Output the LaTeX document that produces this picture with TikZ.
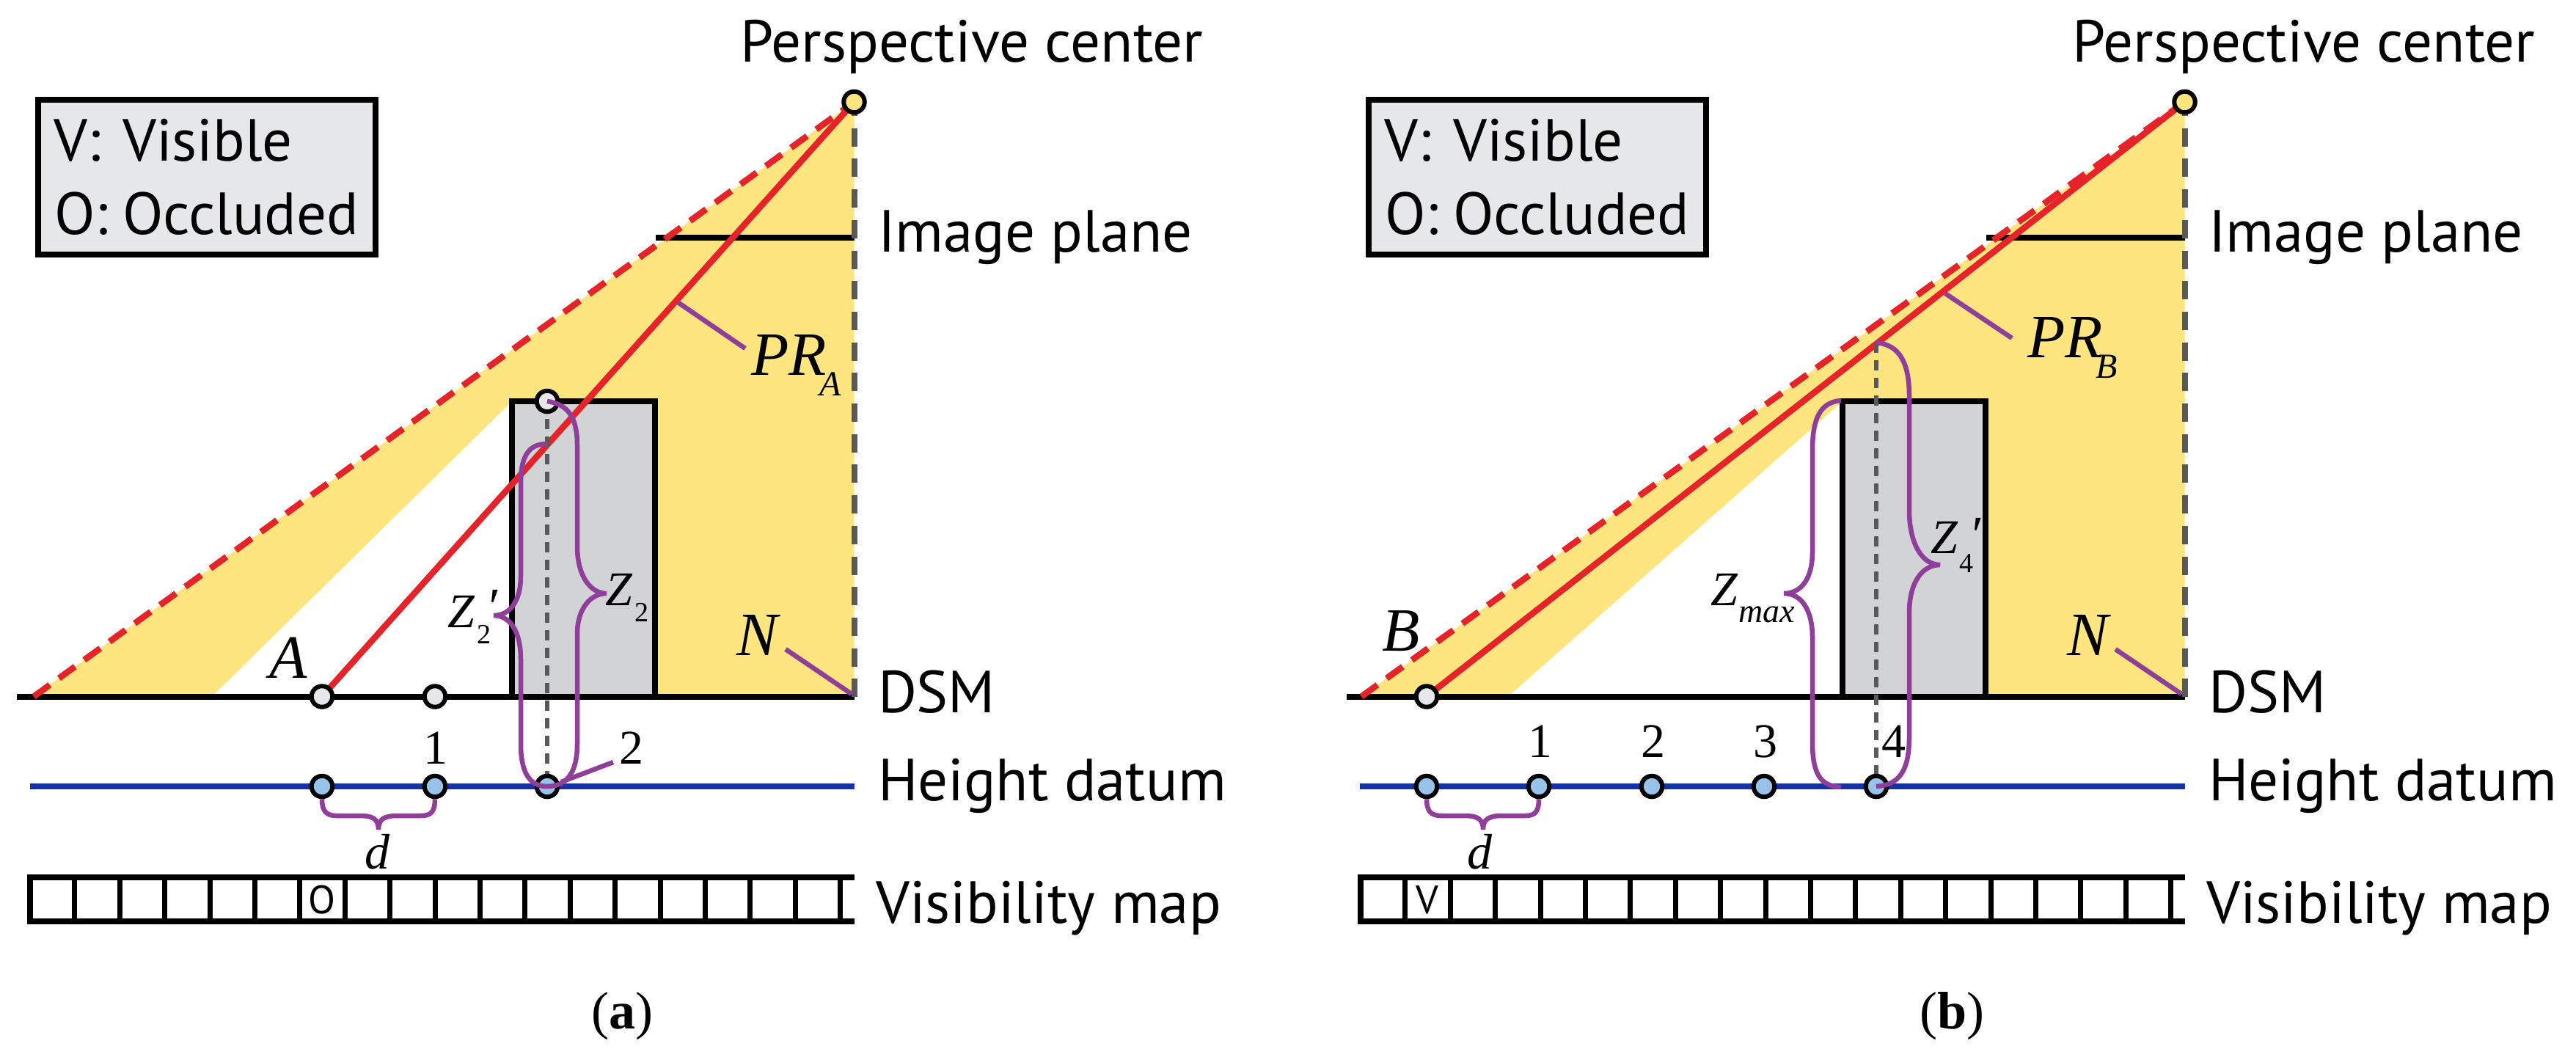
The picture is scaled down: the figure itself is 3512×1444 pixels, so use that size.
\documentclass[tikz,border=0pt]{standalone}
\usepackage{fontspec}
\setmainfont{PT Sans}
\newfontfamily\serifit{Liberation Serif}[ItalicFont={Liberation Serif Italic}]
\definecolor{yel}{HTML}{FEE57F}
\definecolor{bld}{HTML}{D1D3D4}
\definecolor{lgd}{HTML}{E6E7E8}
\definecolor{redl}{HTML}{E52329}
\definecolor{pur}{HTML}{8F3F9A}
\definecolor{blu}{HTML}{1532A8}
\definecolor{lblu}{HTML}{97C2EA}
\definecolor{gry}{HTML}{58595B}
\newcommand{\sz}[1]{\fontsize{#1}{#1}\selectfont}
\newcommand{\mi}[2]{{\serifit\itshape\sz{#1}#2}}
\newcommand{\dg}[2]{{\serifit\sz{#1}#2}}
\tikzset{
  x=1pt,y=-1pt,
  lbl/.style={inner sep=0pt,outer sep=0pt,anchor=base west},
  mid/.style={inner sep=0pt,outer sep=0pt,anchor=base},
  sans/.style={font=\sz{81}},
  dotnode/.style={circle,draw=black,line width=6pt,minimum size=28.5pt,inner sep=0pt},
  pdot/.style={dotnode,fill=lgd},
  bdot/.style={dotnode,fill=lblu},
  ydot/.style={dotnode,fill=yel},
  blk/.style={draw=black,line width=8pt},
  sightline/.style={draw=redl,line width=8.5pt},
  sightdash/.style={draw=redl,line width=8.5pt,dash pattern=on 27pt off 15.5pt},
  axisdash/.style={draw=gry,line width=8pt,dash pattern=on 25pt off 16.7pt,dash phase=6pt},
  plumb/.style={draw=gry,line width=6pt,dash pattern=on 14pt off 10pt},
  brace/.style={draw=pur,line width=6.5pt},
  datum/.style={draw=blu,line width=8pt},
}
\begin{document}
\begin{tikzpicture}
\useasboundingbox (0,0) rectangle (3512,1444);
% ---------- panel a ----------
\coordinate (pca) at (1164.5,139);
\coordinate (ga) at (1164.5,949.5);
\coordinate (sa) at (46,949.5);
\coordinate (wa) at (289,949.5);
\coordinate (Aa) at (439,949.5);
\coordinate (oa) at (593,949.5);
\coordinate (topa) at (746,547);
\coordinate (d0a) at (439,1072);
\coordinate (d1a) at (593,1072);
\coordinate (d2a) at (746,1072);
\coordinate (cross) at (746,605);
\fill[yel] (sa) -- (pca) -- (ga) -- (698,949.5) -- (698,547) -- (wa) -- cycle;
\draw[blk,fill=bld] (698,949.5) rectangle (893,547);
\draw[blk] (23,949.5) -- (ga);
\draw[blk] (894,324) -- (1164.5,324);
\draw[axisdash] (pca) -- (ga);
\draw[sightdash] (sa) -- (pca);
\draw[sightline] (Aa) -- (pca);
\draw[plumb] (topa) -- (d2a);
\draw[datum] (40.5,1072) -- (1164.5,1072);
\draw[draw=none,fill=white] (37,1195.5) rectangle (1164.5,1256);
\draw[blk] (1164.5,1195.5) -- (40.5,1195.5) -- (40.5,1256) -- (1164.5,1256);
\foreach \i in {1,...,18} \draw[draw=black,line width=7pt] ({40.5+61.4*\i},1195.5) -- ({40.5+61.4*\i},1256);
\node[ydot] (npca) at (pca) {};
\node[pdot] (nAa) at (Aa) {};
\node[pdot] (noa) at (oa) {};
\node[pdot] (ntopa) at (topa) {};
\node[bdot] (nd0a) at (d0a) {};
\node[bdot] (nd1a) at (d1a) {};
\node[bdot] (nd2a) at (d2a) {};
\draw[brace] (topa) .. controls (775,551) and (787,570) .. (787,607) -- (787,745) .. controls (787,785) and (805,809) .. (827,809) .. controls (805,809) and (787,830) .. (787,864) -- (787,1014) .. controls (787,1050) and (775,1072) .. (d2a);
\draw[brace] (cross) .. controls (722,605) and (710,620) .. (710,658) -- (710,785) .. controls (710,820) and (695,839) .. (673,839) .. controls (695,839) and (710,860) .. (710,899) -- (710,1014) .. controls (710,1050) and (720,1072) .. (d2a);
\draw[brace] (nd0a.south) .. controls (439,1106) and (445,1112) .. (459,1112) -- (490,1112) .. controls (508,1112) and (516,1116) .. (516,1131) .. controls (516,1116) and (524,1112) .. (543,1112) -- (574,1112) .. controls (588,1112) and (593,1106) .. (nd1a.south);
\coordinate (la2) at (836,1039); \draw[brace] (765,1066) -- (la2);
\coordinate (lpa) at (1016,475); \draw[brace] (924,412) -- (lpa);
\coordinate (lna) at (1071,885); \draw[brace] (lna) -- (1161,946);
\node[draw=black,line width=8pt,fill=lgd,minimum width=460pt,minimum height=211pt,inner sep=0pt,anchor=north west,outer sep=0pt] (lega) at (51.5,136) {};
\node[lbl,sans] (tv1a) at (73,219) {V:};
\node[lbl,sans] (tv2a) at (167,219) {Visible};
\node[lbl,sans] (to1a) at (74,319) {O:};
\node[lbl,sans] (to2a) at (167,319) {Occluded};
\node[lbl,sans] (pta) at (1009,84) {Perspective center};
\node[lbl,sans] (ipa) at (1197,343) {Image plane};
\node[lbl,sans] (dsa) at (1197,971) {DSM};
\node[lbl,sans] (hda) at (1197,1091) {Height datum};
\node[lbl,sans] (vma) at (1194,1258) {Visibility map};
\node[mid] (ca) at (439,1245) {\sz{54}O};
\node[lbl] (Ala) at (367,924) {\mi{84}{A}};
\node[lbl] (Nla) at (1004,893) {\mi{84}{N}};
\node[lbl] (PRa) at (1024,511) {\mi{84}{PR}};
\node[mid] (PRsa) at (1132,539) {\mi{48}{A}};
\node[mid] (n1a) at (594,1041) {\dg{66}{1}};
\node[mid] (n2a) at (861,1041) {\dg{66}{2}};
\node[mid] (dla) at (514,1184) {\mi{68}{d}};
\node[lbl] (Zpa) at (610,855) {\mi{66}{Z}};
\node[mid] (Zpsa) at (660,877) {\dg{38}{2}};
\node[mid] (Zpra) at (670,851) {\mi{72}{\char"2032}};
\node[lbl] (Za) at (825,825) {\mi{66}{Z}};
\node[mid] (Zsa) at (875,847) {\dg{38}{2}};
\node[mid] (capa) at (848,1402) {\serifit\sz{72}(\textbf{a})};
% ---------- panel b ----------
\coordinate (pcb) at (2978.5,139);
\coordinate (gb) at (2978.5,949.5);
\coordinate (sb) at (1856,949.5);
\coordinate (wb) at (2056,949.5);
\coordinate (Ab) at (1945,949.5);
\coordinate (topb) at (2558,467);
\coordinate (d0b) at (1945,1072);
\coordinate (d1b) at (2098,1072);
\coordinate (d2b) at (2252,1072);
\coordinate (d3b) at (2405,1072);
\coordinate (d4b) at (2558,1072);
\fill[yel] (sb) -- (pcb) -- (gb) -- (2512,949.5) -- (2512,547) -- (wb) -- cycle;
\draw[blk,fill=bld] (2512,949.5) rectangle (2707,547);
\draw[blk] (1836,949.5) -- (gb);
\draw[blk] (2708,324) -- (2978.5,324);
\draw[axisdash] (pcb) -- (gb);
\draw[sightdash] (sb) -- (pcb);
\draw[sightline] (Ab) -- (pcb);
\draw[plumb] (topb) -- (d4b);
\draw[datum] (1854,1072) -- (2978.5,1072);
\draw[draw=none,fill=white] (1850,1195.5) rectangle (2978.5,1256);
\draw[blk] (2978.5,1195.5) -- (1854.5,1195.5) -- (1854.5,1256) -- (2978.5,1256);
\foreach \i in {1,...,18} \draw[draw=black,line width=7pt] ({1854.5+61.4*\i},1195.5) -- ({1854.5+61.4*\i},1256);
\node[ydot] (npcb) at (pcb) {};
\node[pdot] (nAb) at (Ab) {};
\node[bdot] (nd0b) at (d0b) {};
\node[bdot] (nd1b) at (d1b) {};
\node[bdot] (nd2b) at (d2b) {};
\node[bdot] (nd3b) at (d3b) {};
\node[bdot] (nd4b) at (d4b) {};
\draw[brace] (topb) .. controls (2590,470) and (2603,495) .. (2603,540) -- (2603,696) .. controls (2603,740) and (2620,770) .. (2645,770) .. controls (2620,770) and (2603,795) .. (2603,835) -- (2603,1004) .. controls (2603,1050) and (2590,1070) .. (d4b);
\coordinate (zmt) at (2510,546);
\coordinate (zmb) at (2510,1073);
\draw[brace] (zmt) .. controls (2482,548) and (2471,570) .. (2471,613) -- (2471,752) .. controls (2471,790) and (2455,809) .. (2432,809) .. controls (2455,809) and (2471,830) .. (2471,869) -- (2471,1012) .. controls (2471,1055) and (2482,1072) .. (zmb);
\draw[brace] (nd0b.south) .. controls (1945,1106) and (1951,1112) .. (1965,1112) -- (1996,1112) .. controls (2014,1112) and (2022,1116) .. (2022,1131) .. controls (2022,1116) and (2030,1112) .. (2049,1112) -- (2080,1112) .. controls (2093,1112) and (2098,1106) .. (nd1b.south);
\coordinate (lpb) at (2743,461); \draw[brace] (2652,400) -- (lpb);
\coordinate (lnb) at (2884,885); \draw[brace] (lnb) -- (2974,946);
\node[draw=black,line width=8pt,fill=lgd,minimum width=460pt,minimum height=211pt,inner sep=0pt,anchor=north west,outer sep=0pt] (legb) at (1865.5,136) {};
\node[lbl,sans] (tv1b) at (1887,219) {V:};
\node[lbl,sans] (tv2b) at (1981,219) {Visible};
\node[lbl,sans] (to1b) at (1888,319) {O:};
\node[lbl,sans] (to2b) at (1981,319) {Occluded};
\node[lbl,sans] (ptb) at (2825,84) {Perspective center};
\node[lbl,sans] (ipb) at (3011,343) {Image plane};
\node[lbl,sans] (dsb) at (3011,971) {DSM};
\node[lbl,sans] (hdb) at (3011,1091) {Height datum};
\node[lbl,sans] (vmb) at (3008,1258) {Visibility map};
\node[mid] (cb) at (1946,1245) {\sz{54}V};
\node[lbl] (Blb) at (1884,887) {\mi{84}{B}};
\node[lbl] (Nlb) at (2818,893) {\mi{84}{N}};
\node[lbl] (PRb) at (2764,487) {\mi{84}{PR}};
\node[mid] (PRsb) at (2872,515) {\mi{48}{B}};
\node[mid] (n1b) at (2100,1032) {\dg{66}{1}};
\node[mid] (n2b) at (2254,1032) {\dg{66}{2}};
\node[mid] (n3b) at (2407,1032) {\dg{66}{3}};
\node[mid] (n4b) at (2582,1032) {\dg{66}{4}};
\node[mid] (dlb) at (2017,1184) {\mi{68}{d}};
\node[lbl] (Zm) at (2332,825) {\mi{66}{Z}};
\node[lbl] (Zms) at (2370,848) {\mi{46}{max}};
\node[lbl] (Zb) at (2632,754) {\mi{66}{Z}};
\node[mid] (Zsb) at (2681,780) {\dg{38}{4}};
\node[mid] (Zprb) at (2692,753) {\mi{72}{\char"2032}};
\node[mid] (capb) at (2661,1402) {\serifit\sz{72}(\textbf{b})};
\end{tikzpicture}
\end{document}
